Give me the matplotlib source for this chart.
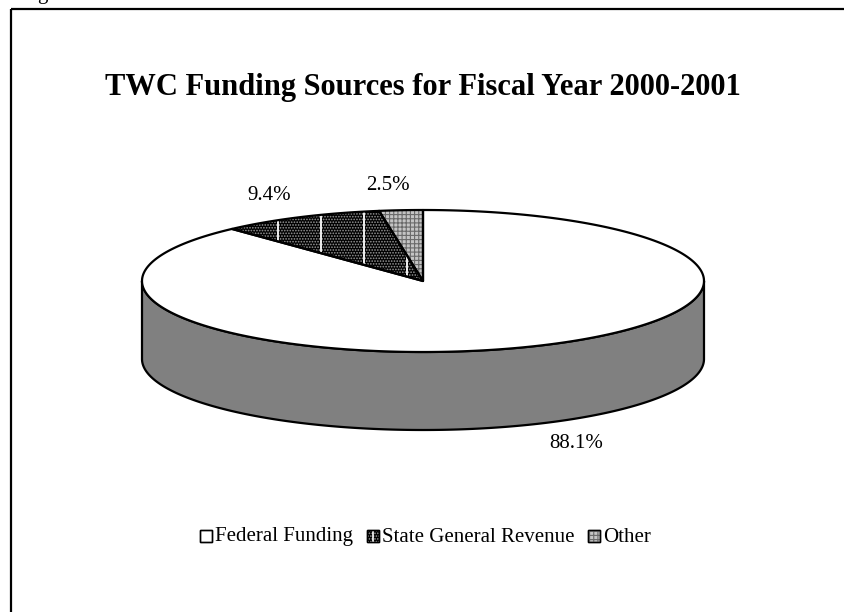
import numpy as np
import matplotlib
matplotlib.use('Agg')
import matplotlib.pyplot as plt
from matplotlib.patches import Polygon, Rectangle
from matplotlib.lines import Line2D

# ---------------- data ----------------
categories = ['Federal Funding', 'State General Revenue', 'Other']
shares = [88.1, 9.4, 2.5]
pct_labels = ['88.1%', '9.4%', '2.5%']
title = 'TWC Funding Sources for Fiscal Year 2000-2001'

# ---------------- layout / style ----------------
W, H = 845, 612
FONT = 'Liberation Serif'
cx, cy, a, b, depth = 423, 281, 281, 71, 78
label_pos = [(576, 444), (269, 195), (388, 186)]
top_colors = ['white', 'black', '#c4c4c4']
hatch_colors = [None, '#9a9a9a', '#6a6a6a']
hatches = [None, '......', '++++']
side_color = '#808080'

plt.rcParams['hatch.linewidth'] = 0.8

fig = plt.figure(figsize=(W / 100, H / 100), dpi=100)
ax = fig.add_axes([0, 0, 1, 1])
ax.set_xlim(0, W)
ax.set_ylim(H, 0)
ax.axis('off')


def arc(t1, t2, n=300, dy=0.0):
    t = np.radians(np.linspace(t1, t2, n))
    return np.column_stack([cx + a * np.cos(t), cy - b * np.sin(t) + dy])


# slice angle ranges: start at 12 o'clock, clockwise
ranges = []
cur = 90.0
for s in shares:
    end = cur - s / 100.0 * 360.0
    ranges.append((end, cur))
    cur = end

# sides (front half only)
for i, (lo, hi) in enumerate(ranges):
    for f0, f1 in [(-540, -360), (-180, 0), (180, 360)]:
        s0, s1 = max(lo, f0), min(hi, f1)
        if s1 > s0:
            top = arc(s0, s1)
            bot = arc(s1, s0, dy=depth)
            poly = np.vstack([top, bot])
            ax.add_patch(Polygon(poly, closed=True, facecolor=side_color,
                                 edgecolor='black', lw=1.6, joinstyle='round', zorder=2))

# top faces
for i, (lo, hi) in enumerate(ranges):
    pts = np.vstack([[cx, cy], arc(lo, hi)])
    base = Polygon(pts, closed=True, facecolor=top_colors[i], edgecolor='none', zorder=3)
    ax.add_patch(base)
    if hatches[i]:
        ax.add_patch(Polygon(pts, closed=True, facecolor='none', edgecolor=hatch_colors[i],
                             lw=0, hatch=hatches[i], zorder=4))
    if i == 1:
        xs = np.arange(278, cx, 43)
        for x in xs:
            ln = Line2D([x, x], [150, 320], color='white', lw=1.3, zorder=5)
            ax.add_line(ln)
            ln.set_clip_path(base)
    ax.add_patch(Polygon(pts, closed=True, facecolor='none', edgecolor='black',
                         lw=1.6, joinstyle='round', zorder=6))

# percentage labels
for (x, y), t in zip(label_pos, pct_labels):
    ax.text(x, y, t, fontsize=15, family=FONT, ha='center', va='center', zorder=7)

# title
ax.text(423, 88, title, fontsize=22, family=FONT, fontweight='bold',
        ha='center', va='center')

# legend (manual)
fig.canvas.draw()
renderer = fig.canvas.get_renderer()
x = 200.0
ly = 536
box = 12
for i, name in enumerate(categories):
    rect_y = ly - box / 2
    ax.add_patch(Rectangle((x, rect_y), box, box, facecolor=top_colors[i],
                           edgecolor='black', lw=1.0, zorder=5))
    if hatches[i]:
        ax.add_patch(Rectangle((x, rect_y), box, box, facecolor='none',
                               edgecolor=hatch_colors[i], lw=0, hatch=hatches[i], zorder=6))
    if i == 1:
        ax.add_line(Line2D([x + box / 2, x + box / 2], [rect_y + 1.5, rect_y + box - 1.5],
                           color='white', lw=1.2, zorder=7))
    ax.add_patch(Rectangle((x, rect_y), box, box, facecolor='none',
                           edgecolor='black', lw=1.0, zorder=8))
    t = ax.text(x + box + 3, ly + 1, name, fontsize=15, family=FONT,
                ha='left', va='center')
    bb = t.get_window_extent(renderer=renderer)
    x = x + box + 3 + bb.width + 14

# frame (right/bottom edges fall outside the image)
ax.add_patch(Rectangle((11, 9), 1000, 1000, facecolor='none', edgecolor='black', lw=1.6))
ax.text(37, -0.5, 'g', fontsize=15, family=FONT, ha='left', va='baseline')

fig.savefig('out.png', dpi=100)
